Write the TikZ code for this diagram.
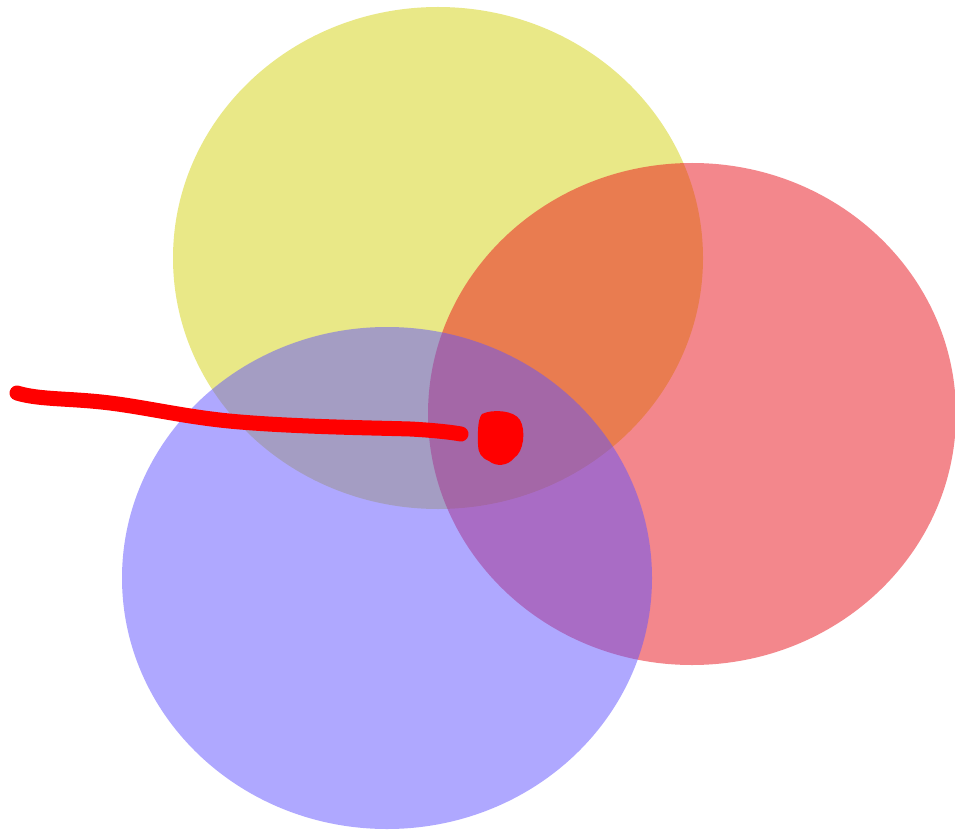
\documentclass[tikz,border=0pt]{standalone}
\definecolor{cyel}{RGB}{213,211,17}
\definecolor{cred}{RGB}{233,17,27}
\definecolor{cblu}{RGB}{97,83,255}
\tikzset{blob/.style={fill opacity=0.5, draw=none},
  stroke/.style={red, line width=15pt, line cap=round, line join=round}}
\begin{document}
\begin{tikzpicture}[x=1pt,y=-1pt]
\useasboundingbox[fill=white] (0,0) rectangle (955,834);
\fill[blob, cyel] (438,258) ellipse [x radius=265, y radius=251];
\fill[blob, cred] (692,414) ellipse [x radius=264, y radius=251];
\fill[blob, cblu] (387,578) ellipse [x radius=265, y radius=251];
\coordinate (s) at (17,393);
\coordinate (e) at (461,434);
\draw[stroke] (s) .. controls (40,400) and (70,398) .. (110,403)
  .. controls (150,408) and (190,418) .. (240,422)
  .. controls (300,427) and (380,428) .. (410,429)
  .. controls (430,430) and (450,432) .. (e);
\fill[red] (482,414) .. controls (492,409) and (514,410) .. (520,420)
  .. controls (526,430) and (524,452) .. (514,458)
  .. controls (508,466) and (496,467) .. (489,461)
  .. controls (481,458) and (478,452) .. (478,445)
  .. controls (478,435) and (477,420) .. (482,414) -- cycle;
\end{tikzpicture}
\end{document}
